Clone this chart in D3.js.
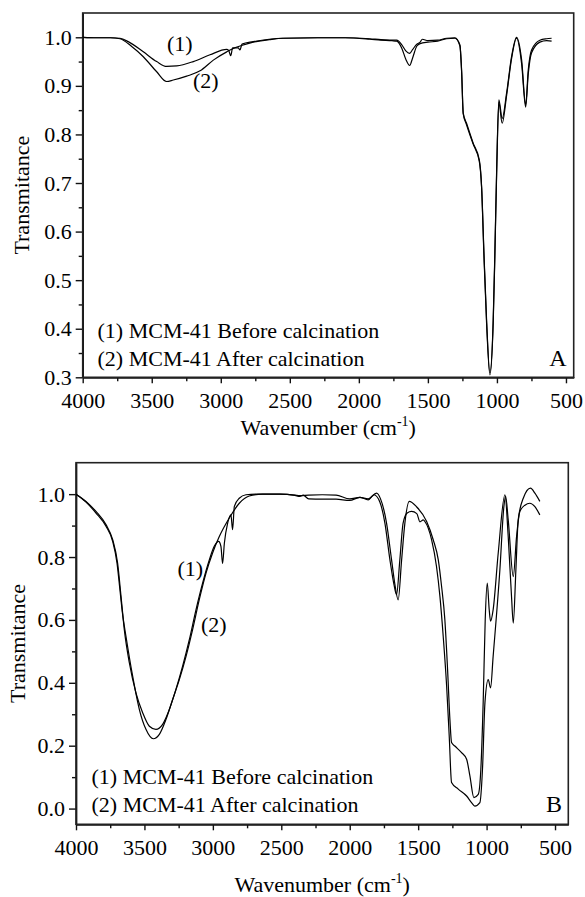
<!DOCTYPE html>
<html lang="en">
<head>
  <meta charset="UTF-8">
  <title>FTIR MCM-41</title>
  <script src="https://d3js.org/d3.v7.min.js"></script>
  <style>
    body { margin: 0; background: #fff; }
    svg { display: block; }
    text { font-family: "Liberation Serif", "Times New Roman", serif; fill: #000; }
    .axis text { font-size: 22px; }
    .axis path, .axis line { stroke: #111; stroke-width: 1.4; }
    .frame { fill: none; stroke: #222; stroke-width: 1.6; }
    .spec { fill: none; stroke: #000; stroke-width: 1.2; }
  </style>
</head>
<body>
  <svg width="585" height="897"></svg>
  <script>
    // wavenumber (cm-1), transmittance
    const specA1 = [[4000,1.000],[3900,0.999],[3800,0.999],[3730,0.998],[3670,0.991],[3561,0.970],[3464,0.950],[3392,0.940],[3319,0.941],[3199,0.950],[3078,0.964],[2957,0.975],[2943,0.973],[2928,0.962],[2914,0.978],[2873,0.978],[2861,0.974],[2846,0.986],[2765,0.991],[2650,0.996],[2549,0.998],[2300,0.999],[2100,0.999],[1920,0.997],[1840,0.995],[1760,0.994],[1726,0.994],[1690,0.985],[1660,0.972],[1632,0.967],[1610,0.975],[1580,0.986],[1556,0.990],[1540,0.996],[1500,0.993],[1430,0.994],[1364,0.998],[1304,0.999],[1268,0.984],[1256,0.933],[1244,0.844],[1220,0.823],[1172,0.782],[1128,0.748],[1111,0.693],[1094,0.556],[1075,0.418],[1051,0.309],[1027,0.418],[1015,0.556],[1002,0.727],[986,0.871],[962,0.833],[930,0.885],[894,0.960],[858,1.000],[821,0.953],[792,0.861],[773,0.933],[749,0.974],[689,0.994],[640,0.997],[604,0.998]];
    const specA2 = [[4000,1.000],[3900,0.999],[3800,0.999],[3730,0.997],[3645,0.981],[3561,0.960],[3464,0.929],[3392,0.909],[3344,0.912],[3247,0.920],[3150,0.931],[3054,0.953],[2957,0.970],[2909,0.977],[2850,0.983],[2765,0.990],[2650,0.995],[2549,0.998],[2300,0.999],[2100,0.999],[1920,0.996],[1840,0.994],[1760,0.993],[1726,0.992],[1690,0.978],[1660,0.955],[1632,0.942],[1610,0.958],[1580,0.982],[1556,0.987],[1500,0.990],[1430,0.992],[1364,0.997],[1304,0.998],[1268,0.982],[1256,0.930],[1244,0.842],[1220,0.820],[1172,0.780],[1128,0.745],[1111,0.690],[1094,0.550],[1075,0.412],[1051,0.305],[1027,0.412],[1015,0.550],[1002,0.720],[986,0.866],[962,0.823],[930,0.880],[894,0.956],[858,0.998],[821,0.945],[792,0.856],[773,0.925],[749,0.968],[689,0.990],[640,0.993],[604,0.992]];
    const specB1 = [[4000,1.000],[3927,0.977],[3854,0.945],[3781,0.903],[3732,0.855],[3696,0.781],[3671,0.675],[3647,0.569],[3610,0.463],[3562,0.368],[3513,0.305],[3464,0.262],[3416,0.252],[3367,0.268],[3318,0.315],[3270,0.379],[3221,0.453],[3172,0.537],[3123,0.633],[3075,0.717],[3026,0.791],[2990,0.834],[2958,0.850],[2941,0.834],[2929,0.779],[2916,0.844],[2892,0.908],[2868,0.934],[2856,0.887],[2843,0.961],[2807,0.987],[2758,0.998],[2685,1.000],[2510,1.000],[2400,0.996],[2364,0.993],[2340,0.997],[2300,0.985],[2200,0.984],[2100,0.984],[2000,0.980],[1926,0.990],[1865,0.982],[1823,0.998],[1780,0.975],[1743,0.908],[1706,0.790],[1677,0.713],[1658,0.680],[1634,0.790],[1610,0.908],[1580,0.940],[1548,0.945],[1510,0.938],[1487,0.912],[1463,0.918],[1451,0.913],[1402,0.855],[1366,0.770],[1341,0.675],[1317,0.548],[1292,0.390],[1273,0.230],[1256,0.083],[1207,0.062],[1146,0.040],[1110,0.019],[1086,0.008],[1049,0.019],[1030,0.125],[1012,0.337],[988,0.410],[971,0.384],[952,0.485],[903,0.759],[874,0.959],[861,0.994],[842,0.918],[805,0.738],[781,0.865],[757,0.945],[720,0.965],[684,0.971],[647,0.960],[611,0.934]];
    const specB2 = [[4000,1.000],[3927,0.975],[3854,0.940],[3781,0.898],[3732,0.850],[3700,0.780],[3680,0.700],[3660,0.620],[3635,0.548],[3586,0.421],[3537,0.315],[3489,0.252],[3435,0.222],[3391,0.236],[3343,0.283],[3294,0.347],[3245,0.410],[3196,0.484],[3148,0.569],[3099,0.665],[3050,0.749],[3002,0.813],[2953,0.865],[2880,0.924],[2807,0.971],[2734,0.994],[2636,1.000],[2510,1.000],[2400,0.997],[2364,0.995],[2300,0.997],[2200,0.998],[2100,0.997],[2000,0.985],[1926,0.990],[1865,0.985],[1804,1.003],[1775,0.985],[1731,0.908],[1694,0.790],[1670,0.713],[1646,0.664],[1621,0.790],[1597,0.908],[1565,0.977],[1512,0.960],[1438,0.913],[1390,0.855],[1353,0.791],[1329,0.707],[1305,0.601],[1285,0.442],[1268,0.283],[1256,0.210],[1232,0.199],[1183,0.178],[1146,0.157],[1122,0.104],[1093,0.035],[1061,0.045],[1042,0.125],[1025,0.337],[1010,0.601],[995,0.717],[981,0.633],[971,0.596],[952,0.633],[915,0.813],[866,0.998],[842,0.865],[818,0.675],[805,0.590],[786,0.759],[769,0.918],[732,0.987],[679,1.019],[647,1.003],[611,0.977]];

    const xTicks = [4000, 3500, 3000, 2500, 2000, 1500, 1000, 500];
    const xMinor = [3750, 3250, 2750, 2250, 1750, 1250, 750];
    const yTicksA = [0.3, 0.4, 0.5, 0.6, 0.7, 0.8, 0.9, 1.0];
    const yMinorA = [0.35, 0.45, 0.55, 0.65, 0.75, 0.85, 0.95];
    const yTicksB = [0.0, 0.2, 0.4, 0.6, 0.8, 1.0];
    const yMinorB = [0.1, 0.3, 0.5, 0.7, 0.9];
    const legendLines = ["(1) MCM-41 Before calcination", "(2) MCM-41 After calcination"];

    const svg = d3.select("svg");

    function panel(cfg) {
      const x = d3.scaleLinear().domain(cfg.xDomain).range([cfg.left, cfg.right]);
      const y = d3.scaleLinear().domain(cfg.yDomain).range([cfg.bottom, cfg.top]);
      const g = svg.append("g");

      g.append("g").attr("class", "axis")
        .attr("transform", `translate(0,${cfg.bottom})`)
        .call(d3.axisBottom(x).tickValues(xMinor).tickSize(4).tickSizeOuter(0).tickFormat(""));
      g.append("g").attr("class", "axis")
        .attr("transform", `translate(0,${cfg.bottom})`)
        .call(d3.axisBottom(x).tickValues(xTicks).tickSize(6).tickSizeOuter(0).tickPadding(9).tickFormat(d3.format("d")));
      g.append("g").attr("class", "axis")
        .attr("transform", `translate(${cfg.left},0)`)
        .call(d3.axisLeft(y).tickValues(cfg.yMinor).tickSize(4).tickSizeOuter(0).tickFormat(""));
      g.append("g").attr("class", "axis")
        .attr("transform", `translate(${cfg.left},0)`)
        .call(d3.axisLeft(y).tickValues(cfg.yTicks).tickSize(7).tickSizeOuter(0).tickPadding(4).tickFormat(d3.format(".1f")));

      g.append("rect").attr("class", "frame")
        .attr("x", cfg.left).attr("y", cfg.top)
        .attr("width", cfg.right - cfg.left).attr("height", cfg.bottom - cfg.top);

      const line = d3.line().x(d => x(d[0])).y(d => y(d[1])).curve(d3.curveMonotoneX);
      g.selectAll("path.spec").data(cfg.series).enter().append("path")
        .attr("class", "spec").attr("d", line);

      // curve labels
      cfg.curveLabels.forEach(l => {
        g.append("text").attr("x", l[0]).attr("y", l[1]).style("font-size", "22px").text(l[2]);
      });

      // legend text
      legendLines.forEach((t, i) => {
        g.append("text").attr("x", cfg.legendX).attr("y", cfg.legendY + i * 28.5)
          .style("font-size", "22px").text(t);
      });
      g.append("text").attr("x", cfg.letterX).attr("y", cfg.letterY)
        .attr("text-anchor", "end").style("font-size", "24px").text(cfg.letter);

      // axis titles
      const xt = g.append("text").attr("x", (cfg.left + cfg.right) / 2).attr("y", cfg.xTitleY)
        .attr("text-anchor", "middle").style("font-size", "22px");
      xt.append("tspan").text("Wavenumber (cm");
      xt.append("tspan").attr("dy", -9).style("font-size", "14px").text("-1");
      xt.append("tspan").attr("dy", 9).text(")");

      g.append("text")
        .attr("transform", `translate(${cfg.yTitleX},${(cfg.top + cfg.bottom) / 2}) rotate(-90)`)
        .attr("text-anchor", "middle").style("font-size", "22px").text("Transmitance");
    }

    panel({
      left: 82.7, right: 573.7, top: 13, bottom: 377.3,
      xDomain: [4000, 444], yDomain: [0.3, 1.05],
      yTicks: yTicksA, yMinor: yMinorA,
      series: [specA1, specA2],
      curveLabels: [[167, 50.5, "(1)"], [193, 87.5, "(2)"]],
      legendX: 97.5, legendY: 337.5,
      letter: "A", letterX: 566.5, letterY: 365.5,
      xTitleY: 435, yTitleX: 28.5
    });

    panel({
      left: 76, right: 568.3, top: 462.7, bottom: 824.3,
      xDomain: [4000, 403], yDomain: [-0.05, 1.1],
      yTicks: yTicksB, yMinor: yMinorB,
      series: [specB1, specB2],
      curveLabels: [[177.5, 575.5, "(1)"], [201, 632, "(2)"]],
      legendX: 91.5, legendY: 783.5,
      letter: "B", letterX: 562, letterY: 811.5,
      xTitleY: 892, yTitleX: 25
    });
  </script>
</body>
</html>
